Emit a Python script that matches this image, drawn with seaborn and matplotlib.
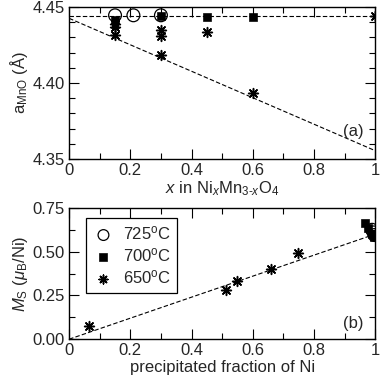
import numpy as np
import pandas as pd
import seaborn as sns
import matplotlib.pyplot as plt
from matplotlib.ticker import MultipleLocator

sns.set_style("ticks")
plt.rcParams['font.family'] = ['Liberation Sans', 'DejaVu Sans']
plt.rcParams['mathtext.fontset'] = 'custom'
plt.rcParams['mathtext.rm'] = 'Liberation Sans'
plt.rcParams['mathtext.it'] = 'Liberation Sans:italic'
plt.rcParams['mathtext.bf'] = 'Liberation Sans:bold'

# (a) lattice parameter of MnO vs x in NixMn3-xO4
x_725a = [0.15, 0.21, 0.30]
a_725 = [4.4445, 4.4445, 4.4445]
x_700a = [0.15, 0.30, 0.45, 0.60]
a_700 = [4.4413, 4.4440, 4.4432, 4.4432]
x_650a = [0.15, 0.15, 0.15, 0.30, 0.30, 0.30, 0.45, 0.60, 1.0]
a_650 = [4.4390, 4.4365, 4.4314, 4.4350, 4.4308, 4.4183, 4.4336, 4.3937, 4.4439]
fit_a_x = [0.0, 1.0]
fit_a_y = [4.4425, 4.3555]
ref_a_x = [0.0, 1.0]
ref_a_y = [4.4439, 4.4439]

# (b) saturation moment vs precipitated fraction of Ni
f_725 = [0.99, 0.995, 0.998]
m_725 = [0.625, 0.610, 0.595]
f_700 = [0.967, 0.977, 0.99, 0.995]
m_700 = [0.665, 0.635, 0.600, 0.585]
f_650 = [0.066, 0.512, 0.548, 0.660, 0.749, 0.995]
m_650 = [0.075, 0.280, 0.330, 0.400, 0.495, 0.595]
fit_b_x = [0.0, 1.0]
fit_b_y = [0.0, 0.60]

labels = ["725$^{\\rm o}$C", "700$^{\\rm o}$C", "650$^{\\rm o}$C"]

star = (8, 2, 0)
FS = 12

fig = plt.figure(figsize=(3.82, 3.85), dpi=100)
ax1 = fig.add_axes([0.181, 0.587, 0.801, 0.395])
ax2 = fig.add_axes([0.181, 0.119, 0.801, 0.341])


def style(ax):
    ax.tick_params(which='both', direction='in', top=True, right=True,
                   labelsize=FS, width=0.8, color='black', pad=3)
    ax.tick_params(which='major', length=7.5)
    ax.tick_params(which='minor', length=4.3)
    for s in ax.spines.values():
        s.set_linewidth(1.0)
        s.set_color('black')


# panel (a)
sns.lineplot(x=ref_a_x, y=ref_a_y, ax=ax1, color='black', lw=0.8,
             linestyle=(0, (4, 2)))
sns.lineplot(x=fit_a_x, y=fit_a_y, ax=ax1, color='black', lw=0.8,
             linestyle=(0, (4, 2)))
sns.scatterplot(x=x_725a, y=a_725, ax=ax1, marker='o', s=85,
                facecolor='none', edgecolor='black', linewidth=0.9, zorder=3)
sns.scatterplot(x=x_700a, y=a_700, ax=ax1, marker='s', s=34,
                color='black', edgecolor='black', zorder=4)
sns.scatterplot(x=x_650a, y=a_650, ax=ax1, marker=star, s=50,
                color='black', linewidth=1.1, zorder=5)
ax1.set_xlim(0, 1)
ax1.set_ylim(4.35, 4.45)
ax1.set_xticks([0, 0.2, 0.4, 0.6, 0.8, 1.0])
ax1.set_xticklabels(['0', '0.2', '0.4', '0.6', '0.8', '1'])
ax1.xaxis.set_minor_locator(MultipleLocator(0.1))
ax1.set_yticks([4.35, 4.40, 4.45])
ax1.set_yticklabels(['4.35', '4.40', '4.45'])
ax1.yaxis.set_minor_locator(MultipleLocator(0.01))
ax1.set_xlabel("$x$ in Ni$_x$Mn$_{3\\text{-}x}$O$_4$", fontsize=FS, labelpad=1)
ax1.set_ylabel("a$_{\\rm MnO}$ (Å)", fontsize=FS, labelpad=2)
ax1.text(0.93, 4.368, "(a)", fontsize=FS, ha='center', va='center')
style(ax1)

# panel (b)
sns.lineplot(x=fit_b_x, y=fit_b_y, ax=ax2, color='black', lw=0.8,
             linestyle=(0, (4, 2)))
sns.scatterplot(x=f_725, y=m_725, ax=ax2, marker='o', s=85,
                facecolor='none', edgecolor='black', linewidth=0.9,
                zorder=3, label=labels[0])
sns.scatterplot(x=f_700, y=m_700, ax=ax2, marker='s', s=34,
                color='black', edgecolor='black', zorder=4, label=labels[1])
sns.scatterplot(x=f_650, y=m_650, ax=ax2, marker=star, s=50,
                color='black', linewidth=1.1,
                zorder=5, label=labels[2])
ax2.set_xlim(0, 1)
ax2.set_ylim(0, 0.75)
ax2.set_xticks([0, 0.2, 0.4, 0.6, 0.8, 1.0])
ax2.set_xticklabels(['0', '0.2', '0.4', '0.6', '0.8', '1'])
ax2.xaxis.set_minor_locator(MultipleLocator(0.1))
ax2.set_yticks([0, 0.25, 0.5, 0.75])
ax2.set_yticklabels(['0.00', '0.25', '0.50', '0.75'])
ax2.yaxis.set_minor_locator(MultipleLocator(0.125))
ax2.set_xlabel("precipitated fraction of Ni", fontsize=FS, labelpad=1)
ax2.set_ylabel("$M_{\\rm S}$ ($\\mu_{\\rm B}$/Ni)", fontsize=FS, labelpad=2)
ax2.text(0.93, 0.09, "(b)", fontsize=FS, ha='center', va='center')
leg = ax2.legend(loc='upper left', bbox_to_anchor=(0.055, 0.925),
                 frameon=True, fancybox=False, edgecolor='black',
                 framealpha=1, fontsize=FS, handletextpad=0.5,
                 borderpad=0.4, labelspacing=0.25, handlelength=1.3,
                 borderaxespad=0)
leg.get_frame().set_linewidth(0.9)
for h, sz in zip(leg.legend_handles, [60, 26, 40]):
    h.set_sizes([sz])
style(ax2)

fig.savefig("out.png", dpi=100)
